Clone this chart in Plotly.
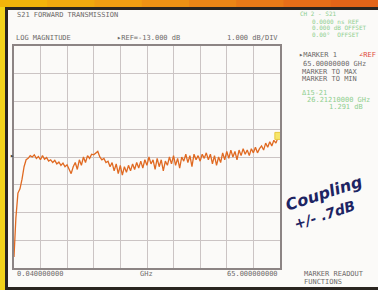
import plotly.graph_objects as go

# ---- data ----
freq_ghz = [0.04, 0.5, 1.0, 1.5, 2.0, 2.5, 3.0, 3.5, 4.0, 4.5, 5.0, 5.5, 6.0, 6.5, 7.0, 7.5,
            8.0, 8.5, 9.0, 9.5, 10.0, 10.5, 11.0, 11.5, 12.0, 12.5, 13.0, 13.5, 14.0, 14.5,
            15.0, 15.5, 16.0, 16.5, 17.0, 17.5, 18.0, 18.5, 19.0, 19.5, 20.0, 20.5, 21.0,
            21.5, 22.0, 22.5, 23.0, 23.5, 24.0, 24.5, 25.0, 25.5, 26.0, 26.5, 27.0, 27.5,
            28.0, 28.5, 29.0, 29.5, 30.0, 30.5, 31.0, 31.5, 32.0, 32.5, 33.0, 33.5, 34.0,
            34.5, 35.0, 35.5, 36.0, 36.5, 37.0, 37.5, 38.0, 38.5, 39.0, 39.5, 40.0, 40.5,
            41.0, 41.5, 42.0, 42.5, 43.0, 43.5, 44.0, 44.5, 45.0, 45.5, 46.0, 46.5, 47.0,
            47.5, 48.0, 48.5, 49.0, 49.5, 50.0, 50.5, 51.0, 51.5, 52.0, 52.5, 53.0, 53.5,
            54.0, 54.5, 55.0, 55.5, 56.0, 56.5, 57.0, 57.5, 58.0, 58.5, 59.0, 59.5, 60.0,
            60.5, 61.0, 61.5, 62.0, 62.5, 63.0, 63.5, 64.0, 64.5, 65.0]
s21_db = [-16.6, -15.2, -14.3, -14.15, -13.8, -13.35, -13.1, -13.05, -12.95, -13.0, -12.92,
          -13.05, -12.98, -13.1, -12.95, -13.08, -13.02, -13.15, -13.1, -13.2, -13.12, -13.25,
          -13.18, -13.3, -13.22, -13.35, -13.28, -13.45, -13.6, -13.35, -13.2, -13.45, -13.1,
          -13.3, -13.0, -13.2, -12.95, -13.05, -12.9, -12.92, -12.85, -12.8, -13.0, -13.1,
          -13.05, -13.2, -13.15, -13.35, -13.2, -13.5, -13.25, -13.6, -13.3, -13.65, -13.35,
          -13.55, -13.3, -13.5, -13.25, -13.45, -13.2, -13.4, -13.15, -13.4, -13.1, -13.3,
          -13.0, -13.25, -13.1, -13.45, -13.05, -13.35, -13.1, -13.5, -13.15, -13.3, -13.0,
          -13.25, -12.95, -13.3, -13.05, -13.4, -13.0, -13.15, -12.9, -13.2, -12.95, -13.35,
          -12.9, -13.1, -12.95, -13.15, -12.9, -13.05, -12.85, -13.1, -12.9, -13.25, -12.95,
          -13.3, -13.0, -13.2, -12.85, -13.1, -12.8, -13.05, -12.75, -13.0, -12.8, -13.1,
          -12.75, -12.95, -12.7, -12.9, -12.75, -12.95, -12.7, -12.85, -12.65, -12.85, -12.7,
          -12.6, -12.75, -12.5, -12.65, -12.45, -12.6, -12.4, -12.5, -12.3, -12.25]
marker_freq = [64.6]
marker_db = [-12.24]
x_range = [0.04, 65.0]
y_range = [-17.0, -9.0]
x_div = 6.496
y_div = 1.0

W, H = 378, 290


def px(x):
    return x / W


def py(y):
    return 1 - y / H


fig = go.Figure()
fig.add_trace(go.Scatter(x=freq_ghz, y=s21_db, mode="lines",
                         line=dict(color="#e06a22", width=1.3), hoverinfo="skip"))
fig.add_trace(go.Scatter(x=marker_freq, y=marker_db, mode="markers",
                         marker=dict(symbol="square", size=7, color="#f6e66a",
                                     line=dict(color="#e8c840", width=1)), hoverinfo="skip"))

shapes = []
# top orange band (gradient approximation)
band_cols = ["#f2b40a", "#f1a90e", "#f09e12", "#ee9214", "#ec8616", "#e97a17", "#e66e18", "#e36418"]
n = len(band_cols)
for i, c in enumerate(band_cols):
    shapes.append(dict(type="rect", xref="paper", yref="paper", x0=i / n, x1=(i + 1) / n + 0.002,
                       y0=py(7), y1=1, fillcolor=c, line=dict(width=0), layer="above"))
shapes.append(dict(type="rect", xref="paper", yref="paper", x0=0, x1=1, y0=py(10), y1=py(7),
                   fillcolor="#2a2520", line=dict(width=0)))
# left yellow band
shapes.append(dict(type="rect", xref="paper", yref="paper", x0=0, x1=px(5), y0=0, y1=py(7),
                   fillcolor="#f2d21a", line=dict(width=0)))
shapes.append(dict(type="rect", xref="paper", yref="paper", x0=px(5), x1=px(8), y0=0, y1=py(8),
                   fillcolor="#2a2520", line=dict(width=0)))
# bottom dark edge
shapes.append(dict(type="rect", xref="paper", yref="paper", x0=px(5), x1=1, y0=0, y1=py(287),
                   fillcolor="#2a2520", line=dict(width=0)))
fig.update_layout(shapes=shapes)

mono = "DejaVu Sans Mono"
grey = "#6e6a6a"
green = "#8fcf8f"
red = "#e04a3a"


def txt(x, y, s, color=grey, size=7, anchor="left", font=mono):
    fig.add_annotation(x=px(x), y=py(y), xref="paper", yref="paper", text=s, showarrow=False,
                       xanchor=anchor, yanchor="middle",
                       font=dict(family=font, size=size, color=color))


txt(15, 15, "S21 FORWARD TRANSMISSION")
txt(14, 38, "LOG MAGNITUDE")
txt(115, 38, "▸REF=-13.000 dB")
txt(280, 38, "1.000 dB/DIV", anchor="right")
txt(15, 274, "0.040000000")
txt(146, 274, "GHz", anchor="center")
txt(280, 274, "65.000000000", anchor="right")
txt(302, 274, "MARKER READOUT")
txt(302, 282, "FUNCTIONS")
txt(12, 156, "▸", color="#444444", anchor="center")

txt(298, 14, "CH 2 - S21", color=green, size=6)
txt(310, 21, "0.0000 ns REF", color=green, size=6)
txt(310, 27.5, "0.000 dB OFFSET", color=green, size=6)
txt(310, 34, "0.00°  OFFSET", color=green, size=6)

txt(297, 55, "▸MARKER 1", color=grey)
txt(357, 55, "∠REF", color=red)
txt(301, 64, "65.00000000 GHz")
txt(300, 72, "MARKER TO MAX")
txt(300, 79, "MARKER TO MIN")
txt(300, 93, "Δ15-21", color=green)
txt(305, 100, "26.21210000 GHz", color=green)
txt(327, 107, "1.291 dB", color=green)

fig.add_annotation(x=px(323), y=py(193), xref="paper", yref="paper", text="<b><i>Coupling</i></b>",
                   showarrow=False, textangle=-18, xanchor="center", yanchor="middle",
                   font=dict(family="DejaVu Sans", size=16, color="#1d2463"))
fig.add_annotation(x=px(324), y=py(215), xref="paper", yref="paper", text="<b><i>+/- .7dB</i></b>",
                   showarrow=False, textangle=-18, xanchor="center", yanchor="middle",
                   font=dict(family="DejaVu Sans", size=14, color="#1d2463"))

axis_common = dict(showgrid=True, gridcolor="#cbc4c4", gridwidth=1, showline=True,
                   linecolor="#8c8484", linewidth=2, mirror=True, zeroline=False,
                   showticklabels=False, ticks="", fixedrange=True)
fig.update_xaxes(range=x_range, tick0=x_range[0], dtick=x_div, domain=[px(14), px(280)], **axis_common)
fig.update_yaxes(range=y_range, tick0=y_range[0], dtick=y_div, domain=[py(268), py(46)], **axis_common)

fig.update_layout(width=W, height=H, autosize=False, margin=dict(l=0, r=0, t=0, b=0),
                  paper_bgcolor="#fbfaf8", plot_bgcolor="#fbfaf8", showlegend=False)

fig.write_html("out.html", config={"displayModeBar": False},
               post_script="document.body.style.margin='0';document.body.style.overflow='hidden';")
